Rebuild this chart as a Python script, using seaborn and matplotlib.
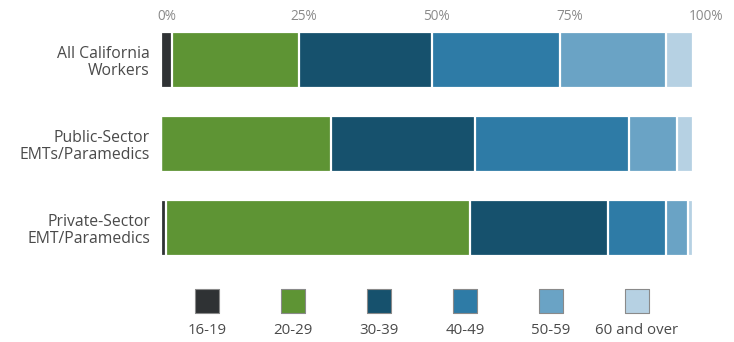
import matplotlib
matplotlib.use("Agg")
import matplotlib.pyplot as plt
import matplotlib.transforms as mtrans
import seaborn as sns
import pandas as pd
import numpy as np

groups = ["All California\nWorkers", "Public-Sector\nEMTs/Paramedics", "Private-Sector\nEMT/Paramedics"]
age_bands = ["16-19", "20-29", "30-39", "40-49", "50-59", "60 and over"]
share_16_19 = [2, 0, 1]
share_20_29 = [24, 32, 57]
share_30_39 = [25, 27, 26]
share_40_49 = [24, 29, 11]
share_50_59 = [20, 9, 4]
share_60_plus = [5, 3, 1]
colors = ["#2f3234", "#5e9434", "#16516d", "#2e7ba6", "#6aa3c5", "#b6d1e3"]
tick_vals = [0, 25, 50, 75, 100]
tick_labels = ["0%", "25%", "50%", "75%", "100%"]

sns.set_theme(style="white")
plt.rcParams["font.family"] = ["Open Sans", "DejaVu Sans"]

series = [share_16_19, share_20_29, share_30_39, share_40_49, share_50_59, share_60_plus]
df = pd.DataFrame({b: s for b, s in zip(age_bands, series)}, index=groups)
cum = df.cumsum(axis=1)

fig = plt.figure(figsize=(7.34, 3.42), dpi=100)
ax = fig.add_axes([161 / 734, 1 - 270 / 342, (693 - 161) / 734, 252 / 342])

for band, col in reversed(list(zip(age_bands, colors))):
    sns.barplot(x=cum[band].values, y=groups, orient="h", color=col, ax=ax,
                width=0.66, edgecolor="white", linewidth=1.6, saturation=1)

ax.set_xlim(0, 100)
ax.set_ylim(2.5, -0.5)
ax.xaxis.tick_top()
ax.set_xticks(tick_vals)
ax.set_xticklabels(tick_labels)
ax.tick_params(axis="x", length=0, pad=-4, labelsize=9.8, labelcolor="#8a8a8a")
ax.tick_params(axis="y", length=0, pad=8, labelsize=11.3, labelcolor="#4a4a4a")
offset = mtrans.ScaledTranslation(-4 / 100, 0, fig.dpi_scale_trans)
for lbl in ax.get_xticklabels():
    lbl.set_horizontalalignment("left")
    lbl.set_transform(lbl.get_transform() + offset)
for lbl in ax.get_yticklabels():
    lbl.set_horizontalalignment("right")
    lbl.set_multialignment("right")
    lbl.set_linespacing(1.05)
ax.set_xlabel("")
ax.set_ylabel("")
sns.despine(ax=ax, left=True, bottom=True, top=True, right=True)

# legend drawn in its own overlay axes
lax = fig.add_axes([0, 0, 1, 1], facecolor="none")
lax.set_xlim(0, 734)
lax.set_ylim(342, 0)
lax.axis("off")
leg_x = np.arange(len(age_bands)) * 86 + 207
lax.scatter(leg_x, [301] * len(age_bands), marker="s", s=280, c=colors,
            edgecolors="#8a8a8a", linewidths=0.8)
for xx, band in zip(leg_x, age_bands):
    lax.text(xx, 331, band, ha="center", va="center", fontsize=10.8, color="#4a4a4a")

fig.savefig("out.png", dpi=100)
